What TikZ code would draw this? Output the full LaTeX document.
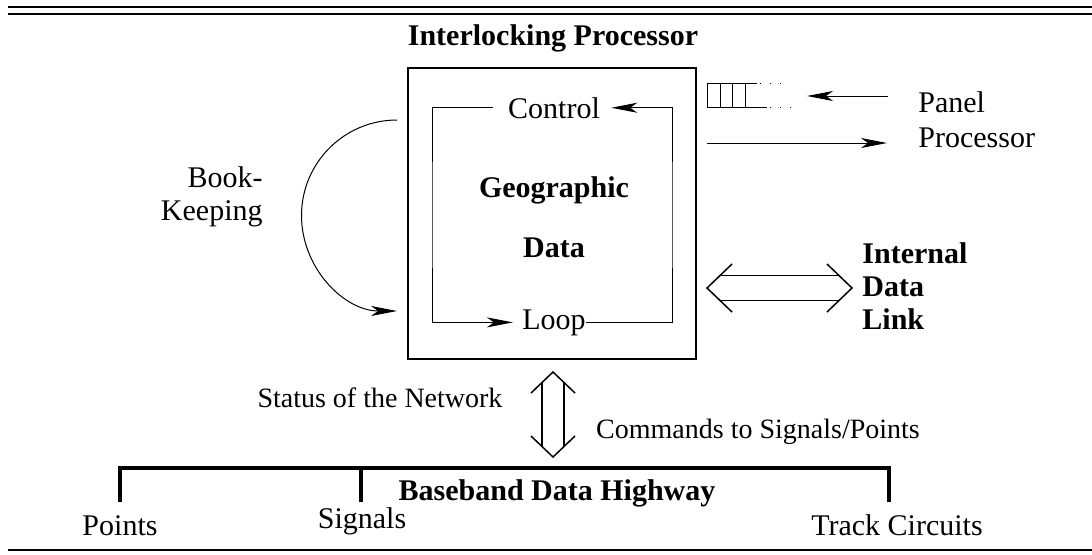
\documentclass[tikz,border=0pt]{standalone}
\usepackage{fontspec}
\setmainfont{Liberation Serif}
\usetikzlibrary{arrows.meta, positioning, calc}

\begin{document}
\begin{tikzpicture}[
    x=0.5pt, y=-0.5pt,
    label/.style={inner sep=0pt, font=\fontsize{15pt}{17.5pt}\selectfont},
    heading/.style={inner sep=0pt, font=\fontsize{15pt}{16.5pt}\selectfont\bfseries},
    small/.style={inner sep=0pt, font=\fontsize{14pt}{16pt}\selectfont},
    wire/.style={line width=0.5pt},
    arrow/.style={-{Stealth[length=13pt, width=5pt, inset=3.5pt]}, line width=0.5pt},
    hollow/.style={line width=0.75pt, line join=miter},
    rule/.style={line width=1pt},
    bus/.style={line width=2pt}
]
    \useasboundingbox (0,0) rectangle (1092,554);

    % --- RULES ---
    \draw[rule] (8,7) -- (1092,7);
    \draw[rule] (8,14) -- (1092,14);
    \draw[rule] (8,550) -- (1092,550);

    % --- PROCESSOR ---
    \node[heading, anchor=base] (title) at (553,45) {Interlocking Processor};
    \node[draw, line width=0.6pt, minimum width=144pt, minimum height=145.5pt, inner sep=0pt] (proc) at (552,213.5) {};

    \node[label, anchor=base] (ctrl) at (554,118) {Control};
    \node[label, anchor=base] (loop) at (554,329) {Loop};
    \node[heading, anchor=base] (geo) at (554,197) {Geographic};
    \node[heading, anchor=base] (data) at (554,257) {Data};

    \coordinate (loopL) at (432,215);
    \coordinate (loopR) at (672,215);
    \draw[arrow, shorten <=7.5pt, shorten >=4.5pt] (ctrl.west) -| (loopL) |- (loop.west);
    \draw[arrow, shorten >=5.5pt] (loop.east) -| (loopR) |- (ctrl.east);

    % --- BOOK-KEEPING ---
    \node[label, align=right, anchor=north east] (book) at (263,166) {Book-\\[-1pt]Keeping};
    \coordinate (bkA) at (397,120);
    \draw[arrow] (bkA) arc[start angle=270, end angle=90, radius=95.5];

    % --- PANEL PROCESSOR ---
    \draw[wire] (707,83) rectangle (745,107);
    \draw[wire] (720,83) -- (720,107) (732,83) -- (732,107);
    \draw[wire] (745,83) -- (757,83) (745,107) -- (767,107);
    \draw[wire, dash pattern=on 0.6pt off 4.4pt] (760,83) -- (784,83) (770,107) -- (796,107);
    \coordinate (queue) at (807,96);

    \node[label, align=left, anchor=north west] (panel) at (918,91) {Panel\\Processor};
    \coordinate (pin) at (888,96);
    \coordinate (pout) at (707,143);
    \coordinate (pend) at (887,143);
    \draw[arrow] (pin) -- (queue);
    \draw[arrow] (pout) -- (pend);

    % --- INTERNAL DATA LINK ---
    \node[heading, align=left, anchor=north west] (link) at (862,242) {Internal\\Data\\Link};
    \coordinate (linkL) at (707,288);
    \coordinate (linkR) at (852,288);
    \draw[hollow] ([shift={(25,-24)}]linkL) -- (linkL) -- ([shift={(25,24)}]linkL);
    \draw[hollow] ([shift={(-25,-24)}]linkR) -- (linkR) -- ([shift={(-25,24)}]linkR);
    \draw[hollow] ([shift={(13,-12.5)}]linkL) -- ([shift={(-13,-12.5)}]linkR);
    \draw[hollow] ([shift={(13,12.5)}]linkL) -- ([shift={(-13,12.5)}]linkR);

    % --- NETWORK ---
    \node[small] (status) at (380,398) {Status of the Network};
    \node[small] (cmds) at (758,432) {Commands to Signals/Points};
    \coordinate (netT) at (553,372);
    \coordinate (netB) at (553,457);
    \draw[hollow] ([shift={(-22,21)}]netT) -- (netT) -- ([shift={(22,21)}]netT);
    \draw[hollow] ([shift={(-22,-21)}]netB) -- (netB) -- ([shift={(22,-21)}]netB);
    \draw[hollow] ([shift={(-11,10.5)}]netT) -- ([shift={(-11,-10.5)}]netB);
    \draw[hollow] ([shift={(11,10.5)}]netT) -- ([shift={(11,-10.5)}]netB);

    % --- HIGHWAY ---
    \coordinate (busL) at (118,468);
    \coordinate (busR) at (891,468);
    \draw[bus] (busL) -- (busR);
    \foreach \x in {120,361,889}
        \draw[bus] (\x,468) -- (\x,502);
    \node[heading, anchor=base] (highway) at (557,500) {Baseband Data Highway};
    \node[label, anchor=base] (points) at (120,535) {Points};
    \node[label, anchor=base] (signals) at (362,528) {Signals};
    \node[label, anchor=base] (track) at (897,535) {Track Circuits};

\end{tikzpicture}
\end{document}
